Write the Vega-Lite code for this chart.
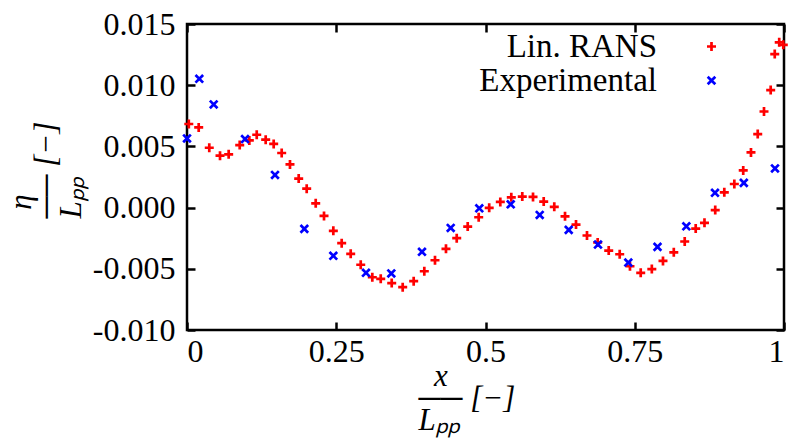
{
  "$schema": "https://vega.github.io/schema/vega-lite/v6.json",
  "width": 597,
  "height": 306,
  "autosize": "none",
  "padding": {"left": 187, "top": 24, "right": 13, "bottom": 112},
  "background": "white",
  "config": {
    "font": "Liberation Serif",
    "view": {"stroke": "black", "strokeWidth": 2.5},
    "axis": {
      "grid": false,
      "domain": false,
      "tickSize": -8,
      "tickWidth": 2.5,
      "tickColor": "black",
      "labelFont": "Liberation Serif",
      "labelFontSize": 32,
      "labelColor": "black",
      "titleFont": "Liberation Serif",
      "titleFontSize": 31,
      "titleFontWeight": "normal",
      "titleFontStyle": "italic",
      "titleColor": "black"
    }
  },
  "data": {
    "values": [
      {"x": 0.003, "y": 0.00683, "series": "Lin. RANS"},
      {"x": 0.0196, "y": 0.00655, "series": "Lin. RANS"},
      {"x": 0.0373, "y": 0.00489, "series": "Lin. RANS"},
      {"x": 0.0553, "y": 0.00424, "series": "Lin. RANS"},
      {"x": 0.0698, "y": 0.00435, "series": "Lin. RANS"},
      {"x": 0.0883, "y": 0.00511, "series": "Lin. RANS"},
      {"x": 0.1044, "y": 0.00549, "series": "Lin. RANS"},
      {"x": 0.1168, "y": 0.00595, "series": "Lin. RANS"},
      {"x": 0.1318, "y": 0.00555, "series": "Lin. RANS"},
      {"x": 0.1452, "y": 0.0052, "series": "Lin. RANS"},
      {"x": 0.1586, "y": 0.00446, "series": "Lin. RANS"},
      {"x": 0.1725, "y": 0.00353, "series": "Lin. RANS"},
      {"x": 0.1871, "y": 0.00237, "series": "Lin. RANS"},
      {"x": 0.2005, "y": 0.00155, "series": "Lin. RANS"},
      {"x": 0.2156, "y": 0.00035, "series": "Lin. RANS"},
      {"x": 0.2295, "y": -0.00068, "series": "Lin. RANS"},
      {"x": 0.2451, "y": -0.0019, "series": "Lin. RANS"},
      {"x": 0.2591, "y": -0.00291, "series": "Lin. RANS"},
      {"x": 0.2742, "y": -0.00378, "series": "Lin. RANS"},
      {"x": 0.291, "y": -0.00467, "series": "Lin. RANS"},
      {"x": 0.3104, "y": -0.00569, "series": "Lin. RANS"},
      {"x": 0.3245, "y": -0.00582, "series": "Lin. RANS"},
      {"x": 0.3429, "y": -0.00617, "series": "Lin. RANS"},
      {"x": 0.3613, "y": -0.0065, "series": "Lin. RANS"},
      {"x": 0.3797, "y": -0.00601, "series": "Lin. RANS"},
      {"x": 0.3975, "y": -0.0052, "series": "Lin. RANS"},
      {"x": 0.4154, "y": -0.0043, "series": "Lin. RANS"},
      {"x": 0.4338, "y": -0.00337, "series": "Lin. RANS"},
      {"x": 0.4518, "y": -0.0025, "series": "Lin. RANS"},
      {"x": 0.4702, "y": -0.00155, "series": "Lin. RANS"},
      {"x": 0.4886, "y": -0.00079, "series": "Lin. RANS"},
      {"x": 0.5062, "y": -0.00002, "series": "Lin. RANS"},
      {"x": 0.5248, "y": 0.00046, "series": "Lin. RANS"},
      {"x": 0.5432, "y": 0.00084, "series": "Lin. RANS"},
      {"x": 0.5616, "y": 0.0009, "series": "Lin. RANS"},
      {"x": 0.5796, "y": 0.00087, "series": "Lin. RANS"},
      {"x": 0.5975, "y": 0.00049, "series": "Lin. RANS"},
      {"x": 0.6152, "y": 0.00006, "series": "Lin. RANS"},
      {"x": 0.6332, "y": -0.00071, "series": "Lin. RANS"},
      {"x": 0.6516, "y": -0.00139, "series": "Lin. RANS"},
      {"x": 0.67, "y": -0.00228, "series": "Lin. RANS"},
      {"x": 0.6879, "y": -0.00285, "series": "Lin. RANS"},
      {"x": 0.7064, "y": -0.00351, "series": "Lin. RANS"},
      {"x": 0.7248, "y": -0.00381, "series": "Lin. RANS"},
      {"x": 0.742, "y": -0.00479, "series": "Lin. RANS"},
      {"x": 0.76, "y": -0.00533, "series": "Lin. RANS"},
      {"x": 0.7786, "y": -0.00502, "series": "Lin. RANS"},
      {"x": 0.7973, "y": -0.00436, "series": "Lin. RANS"},
      {"x": 0.8154, "y": -0.00365, "series": "Lin. RANS"},
      {"x": 0.8337, "y": -0.00277, "series": "Lin. RANS"},
      {"x": 0.8521, "y": -0.00171, "series": "Lin. RANS"},
      {"x": 0.8668, "y": -0.00124, "series": "Lin. RANS"},
      {"x": 0.8848, "y": -0.0002, "series": "Lin. RANS"},
      {"x": 0.9, "y": 0.00125, "series": "Lin. RANS"},
      {"x": 0.9168, "y": 0.00193, "series": "Lin. RANS"},
      {"x": 0.9317, "y": 0.00304, "series": "Lin. RANS"},
      {"x": 0.9447, "y": 0.00451, "series": "Lin. RANS"},
      {"x": 0.956, "y": 0.00601, "series": "Lin. RANS"},
      {"x": 0.9665, "y": 0.00785, "series": "Lin. RANS"},
      {"x": 0.9777, "y": 0.0096, "series": "Lin. RANS"},
      {"x": 0.9845, "y": 0.01254, "series": "Lin. RANS"},
      {"x": 0.992, "y": 0.0135, "series": "Lin. RANS"},
      {"x": 0.9988, "y": 0.0133, "series": "Lin. RANS"},
      {"x": 0.0, "y": 0.00565, "series": "Experimental"},
      {"x": 0.0206, "y": 0.01052, "series": "Experimental"},
      {"x": 0.0447, "y": 0.00843, "series": "Experimental"},
      {"x": 0.0972, "y": 0.0056, "series": "Experimental"},
      {"x": 0.1474, "y": 0.00267, "series": "Experimental"},
      {"x": 0.1965, "y": -0.00174, "series": "Experimental"},
      {"x": 0.2451, "y": -0.00394, "series": "Experimental"},
      {"x": 0.2998, "y": -0.00533, "series": "Experimental"},
      {"x": 0.3422, "y": -0.00538, "series": "Experimental"},
      {"x": 0.3936, "y": -0.00361, "series": "Experimental"},
      {"x": 0.4417, "y": -0.00166, "series": "Experimental"},
      {"x": 0.4896, "y": -0.00006, "series": "Experimental"},
      {"x": 0.5422, "y": 0.00027, "series": "Experimental"},
      {"x": 0.5908, "y": -0.0006, "series": "Experimental"},
      {"x": 0.6394, "y": -0.00182, "series": "Experimental"},
      {"x": 0.6884, "y": -0.00302, "series": "Experimental"},
      {"x": 0.7392, "y": -0.00449, "series": "Experimental"},
      {"x": 0.7881, "y": -0.00321, "series": "Experimental"},
      {"x": 0.8364, "y": -0.00153, "series": "Experimental"},
      {"x": 0.8844, "y": 0.00121, "series": "Experimental"},
      {"x": 0.9327, "y": 0.00202, "series": "Experimental"},
      {"x": 0.9849, "y": 0.0032, "series": "Experimental"}
    ]
  },
  "layer": [
    {
      "mark": {"type": "point", "opacity": 0},
      "encoding": {
        "x": {"field": "x", "type": "quantitative", "scale": {"domain": [0, 1], "nice": false, "zero": false},
              "axis": {"orient": "top", "values": [0, 0.25, 0.5, 0.75, 1], "labels": false, "title": null}},
        "y": {"field": "y", "type": "quantitative", "scale": {"domain": [-0.01, 0.015], "nice": false, "zero": false},
              "axis": {"orient": "right", "values": [-0.01, -0.005, 0, 0.005, 0.01, 0.015], "labels": false, "title": null}}
      }
    },
    {
      "mark": {"type": "point", "filled": false, "strokeWidth": 2.7, "size": 81, "opacity": 1, "clip": false},
      "encoding": {
        "x": {"field": "x", "type": "quantitative",
              "axis": {"orient": "bottom", "values": [0, 0.25, 0.5, 0.75, 1], "labelExpr": "format(datum.value, '.2~f')", "labelPadding": 14,
                       "title": ["\u200b\u2002x", "\u2500\u2500\u2005[\u2212]", "L\u209a\u209a"],
                       "titleAlign": "left", "titleBaseline": "alphabetic", "titleLineHeight": 22, "titleX": 231, "titleY": 55}},
        "y": {"field": "y", "type": "quantitative",
              "axis": {"orient": "left", "values": [-0.01, -0.005, 0, 0.005, 0.01, 0.015],
                       "labelExpr": "replace(format(datum.value, '.3f'), '\u2212', '-')", "labelPadding": 20,
                       "title": ["\u200b\u2009\u200a\u03b7", "\u2500\u2500\u2005[\u2212]", "L\u209a\u209a"],
                       "titleAlign": "left", "titleBaseline": "alphabetic", "titleLineHeight": 25, "titleAngle": -90, "titleX": -157, "titleY": 194}},
        "color": {"field": "series", "type": "nominal",
                  "scale": {"domain": ["Lin. RANS", "Experimental"], "range": ["#ff0000", "#0000ff"]},
                  "legend": {"orient": "none", "legendX": 508, "legendY": 6, "title": null, "padding": 0,
                             "labelAlign": "right", "labelOffset": -71, "labelFontSize": 33, "labelFont": "Liberation Serif",
                             "labelColor": "black", "labelLimit": 400, "rowPadding": -4, "symbolSize": 81, "symbolStrokeWidth": 2.7}},
        "shape": {"field": "series", "type": "nominal",
                  "scale": {"domain": ["Lin. RANS", "Experimental"], "range": ["M-1,0L1,0M0,-1L0,1", "M-0.85,-0.85L0.85,0.85M-0.85,0.85L0.85,-0.85"]},
                  "legend": null}
      }
    }
  ],
  "resolve": {"axis": {"x": "independent", "y": "independent"}}
}
